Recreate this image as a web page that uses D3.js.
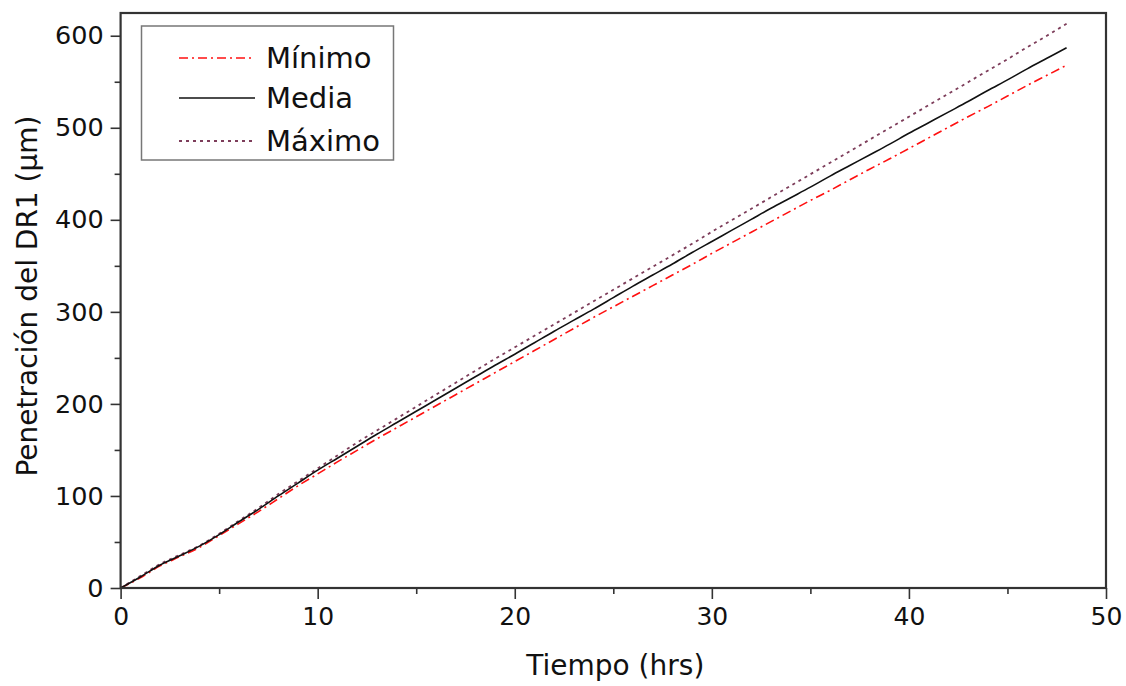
<!DOCTYPE html>
<html><head><meta charset="utf-8">
<script src="https://cdn.jsdelivr.net/npm/d3@7"></script>
<style>body{margin:0;background:#fff;} svg{display:block;font-family:"DejaVu Sans",Verdana,sans-serif;}</style>
</head><body>
<svg id="c" width="1126" height="686"></svg>
<script>
const hours = [0,1,2,3,4,5,6,7,8,9,10,11,12,13,14,15,16,17,18,19,20,21,22,23,24,25,26,27,28,29,30,31,32,33,34,35,36,37,38,39,40,41,42,43,44,45,46,47,48];
const minimo = [0,11,24,34,44,57,70,83,97,111,124,137,149.5,162,174,186,198,210,222,234,246,258,270,282,294,305.5,317,328.5,340,351.5,363.5,375,386.5,398,409.5,421,432,443.5,455,466,477.5,489,500.5,512,523,534.5,546,557,568];
const media = [0,12,25,35,45.5,58,72,85.5,100,114,128,141,154,167,179.5,192,204.5,217,229.5,242,254,266.5,279,291,303,315.5,328,340,352,364.5,376.5,388.5,400.5,412.5,424,435.5,447.5,459,470.5,482,494,505.5,517,528.5,540.5,552,564,575.5,587];
const maximo = [0,13,26,36,46,59,73,87,102,116,130,144,158,171,184,197,210,223,236,249,261.5,274,286.5,299,311.5,324,336.5,349,361.5,374,387,399.5,412,424.5,437,449.5,462,474.5,487,499.5,512,524.5,537,549.5,562,574.5,587.5,600,613];
const seriesNames = ["Mínimo","Media","Máximo"];
const xTicks = [0,10,20,30,40,50];
const yTicks = [0,100,200,300,400,500,600];
const xTitle = "Tiempo (hrs)";
const yTitle = "Penetración del DR1 (μm)";

const svg = d3.select("#c");
const L = 120.6, R = 1106, T = 13, B = 588;
const x = d3.scaleLinear().domain([0,50]).range([L,R]);
const y = d3.scaleLinear().domain([0,624.7]).range([B,T]);
const axisColor = "#333";

const styles = [
  {data: minimo, color:"#ff1010", width:1.6, dash:"9,4,2,4"},
  {data: media, color:"#111", width:1.6, dash:null},
  {data: maximo, color:"#7d3d5a", width:1.8, dash:"3,4"}
];

const line = d3.line().x((d,i)=>x(hours[i])).y(d=>y(d)).curve(d3.curveMonotoneX);
svg.append("clipPath").attr("id","pc").append("rect").attr("x",L).attr("y",T).attr("width",R-L).attr("height",B-T);
const g = svg.append("g").attr("clip-path","url(#pc)");
[2,0,1].forEach(k=>{
  const s = styles[k];
  g.append("path").datum(s.data).attr("d",line).attr("fill","none")
    .attr("stroke",s.color).attr("stroke-width",s.width)
    .attr("stroke-dasharray",s.dash).attr("stroke-linejoin","round");
});

// frame
svg.append("rect").attr("x",L).attr("y",T).attr("width",R-L).attr("height",B-T)
  .attr("fill","none").attr("stroke",axisColor).attr("stroke-width",2.2);

// x axis
const xAx = svg.append("g").attr("transform",`translate(0,${B})`)
  .call(d3.axisBottom(x).tickValues(xTicks).tickSize(11).tickPadding(8).tickFormat(d3.format("d")));
xAx.select(".domain").remove();
xAx.selectAll(".tick line").attr("stroke",axisColor).attr("stroke-width",1.6);
xAx.selectAll("text").attr("font-size",25).attr("fill","#111").attr("font-family","DejaVu Sans");
const xMin = svg.append("g").attr("transform",`translate(0,${B})`)
  .call(d3.axisBottom(x).tickValues([5,15,25,35,45]).tickSize(6).tickFormat(""));
xMin.select(".domain").remove();
xMin.selectAll(".tick line").attr("stroke",axisColor).attr("stroke-width",1.6);

// y axis
const yAx = svg.append("g").attr("transform",`translate(${L},0)`)
  .call(d3.axisLeft(y).tickValues(yTicks).tickSize(10).tickPadding(7).tickFormat(d3.format("d")));
yAx.select(".domain").remove();
yAx.selectAll(".tick line").attr("stroke",axisColor).attr("stroke-width",1.6);
yAx.selectAll("text").attr("font-size",25.5).attr("fill","#111").attr("font-family","DejaVu Sans");
const yMin = svg.append("g").attr("transform",`translate(${L},0)`)
  .call(d3.axisLeft(y).tickValues([50,150,250,350,450,550]).tickSize(6).tickFormat(""));
yMin.select(".domain").remove();
yMin.selectAll(".tick line").attr("stroke",axisColor).attr("stroke-width",1.6);

// titles
svg.append("text").attr("x",(L+R)/2+2).attr("y",675).attr("text-anchor","middle")
  .attr("font-size",28).attr("fill","#111").text(xTitle);
svg.append("text").attr("transform","translate(37,296) rotate(-90)").attr("text-anchor","middle")
  .attr("font-size",28).attr("fill","#111").text(yTitle);

// legend
const lg = svg.append("g");
lg.append("rect").attr("x",141.5).attr("y",26).attr("width",252).attr("height",134)
  .attr("fill","#fff").attr("stroke","#777").attr("stroke-width",1.5);
const rowsY = [58,98,141];
seriesNames.forEach((n,i)=>{
  const s = styles[i];
  lg.append("line").attr("x1",179).attr("x2",255).attr("y1",rowsY[i]).attr("y2",rowsY[i])
    .attr("stroke",s.color).attr("stroke-width",s.width).attr("stroke-dasharray",s.dash);
  lg.append("text").attr("x",266).attr("y",rowsY[i]).attr("dy","0.36em")
    .attr("font-size",29).attr("fill","#111").text(n);
});
</script>
</body></html>
